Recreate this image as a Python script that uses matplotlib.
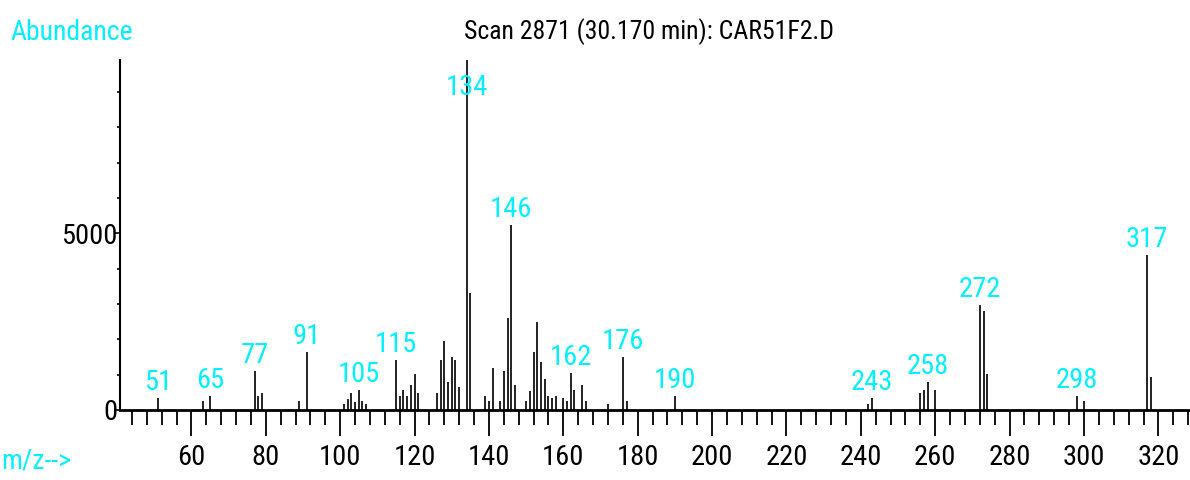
import matplotlib
matplotlib.use("Agg")
import matplotlib.pyplot as plt
from matplotlib.ticker import MultipleLocator, FixedLocator

# ---------------------------------------------------------
# spectrum data (m/z, abundance)
# ---------------------------------------------------------
mz = [51, 63, 65, 77, 78, 79, 89, 91,
      101, 102, 103, 104, 105, 106, 107,
      115, 116, 117, 118, 119, 120, 121,
      126, 127, 128, 129, 130, 131, 132, 134, 135,
      139, 140, 141, 143, 144, 145, 146, 147,
      150, 151, 152, 153, 154, 155, 156, 157, 158,
      160, 161, 162, 163, 165, 166, 172, 176, 177, 190,
      242, 243, 256, 257, 258, 260, 272, 273, 274,
      298, 300, 317, 318]
abundance = [330, 255, 405, 1112, 396, 481, 255, 1650,
             160, 311, 481, 235, 566, 255, 170,
             1415, 396, 566, 405, 708, 1028, 481,
             490, 1415, 1960, 802, 1500, 1415, 640, 9900, 3300,
             405, 255, 1180, 255, 1110, 2590, 5235, 720,
             255, 550, 1650, 2500, 1349, 870, 405, 330, 405,
             330, 255, 1035, 566, 708, 255, 170, 1490, 255, 405,
             170, 330, 481, 557, 802, 566, 2972, 2811, 1028,
             405, 255, 4386, 943]

labelled = [51, 65, 77, 91, 105, 115, 134, 146, 162, 176, 190,
            243, 258, 272, 298, 317]

title = "Scan 2871 (30.170 min): CAR51F2.D"

cyan = "#00F0FF"

# narrow face, closest to the instrument software's font
plt.rcParams["font.family"] = ["Roboto Condensed", "Liberation Sans", "DejaVu Sans"]

fig = plt.figure(figsize=(11.9, 4.8), dpi=100)
ax = fig.add_axes([120 / 1190, 70 / 480, 1070 / 1190, 350 / 480])

ax.vlines(mz, 0, abundance, color="#111111", linewidth=1.3)

# peak labels (kept inside the plot for the base peak)
peaks = dict(zip(mz, abundance))
for m in labelled:
    ypos = min(peaks[m] + 230, 8900)
    ax.text(m, ypos, str(m), color=cyan, fontsize=20.5,
            ha="center", va="baseline")

ax.set_xlim(40.8, 328.5)
ax.set_ylim(0, 9904)

for side in ["top", "right"]:
    ax.spines[side].set_visible(False)
ax.spines["left"].set_linewidth(1.5)
ax.spines["bottom"].set_linewidth(2)

ax.xaxis.set_major_locator(FixedLocator(range(60, 321, 20)))
ax.xaxis.set_minor_locator(MultipleLocator(4))
ax.yaxis.set_major_locator(FixedLocator([0, 5000]))
ax.yaxis.set_minor_locator(MultipleLocator(1000))

ax.tick_params(axis="x", which="major", length=18.5, width=1.3,
               labelsize=20.5, pad=6)
ax.tick_params(axis="x", which="minor", length=10.5, width=1.3)
ax.tick_params(axis="y", which="major", length=3.6, width=1.2,
               labelsize=20.5, pad=-1.5)
ax.tick_params(axis="y", which="minor", length=2.2, width=1.2)

fig.text(649.5 / 1190, 1 - 32 / 480, title, ha="center", va="center",
         fontsize=18.5, color="black")
fig.text(10 / 1190, 1 - 32 / 480, "Abundance", ha="left", va="center",
         fontsize=20, color=cyan)
fig.text(1 / 1190, 1 - 461 / 480, "m/z-->", ha="left", va="center",
         fontsize=20, color=cyan)

fig.savefig("out.png", dpi=100)
